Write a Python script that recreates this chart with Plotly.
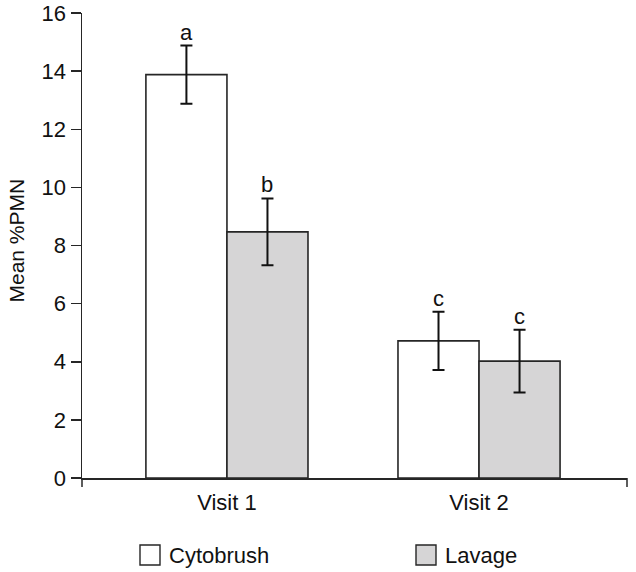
import plotly.graph_objects as go

visits = ["Visit 1", "Visit 2"]
series_names = ["Cytobrush", "Lavage"]
cytobrush_mean = [13.88, 4.72]
cytobrush_err = [1.0, 1.0]
lavage_mean = [8.47, 4.02]
lavage_err = [1.15, 1.08]
cytobrush_letters = ["a", "c"]
lavage_letters = ["b", "c"]
y_ticks = [0, 2, 4, 6, 8, 10, 12, 14, 16]
y_title = "Mean %PMN"

FONT = "Liberation Sans, Arial, Helvetica, sans-serif"
INK = "#262626"
TXT = "#111111"
fills = ["#ffffff", "#d6d5d6"]

x_pos = [0, 1]
FIG_W, FIG_H = 636, 572

fig = go.Figure()
for name, means, errs, fill in [
    (series_names[0], cytobrush_mean, cytobrush_err, fills[0]),
    (series_names[1], lavage_mean, lavage_err, fills[1]),
]:
    fig.add_trace(go.Bar(
        x=x_pos, y=means, name=name,
        marker=dict(color=fill, line=dict(color=INK, width=1.6)),
        error_y=dict(type="data", array=errs, visible=True,
                     color=TXT, thickness=2, width=6),
        showlegend=False, hoverinfo="skip",
    ))

offsets = [-0.1607, 0.1607]
annots = []
for off, means, errs, letters in [
    (offsets[0], cytobrush_mean, cytobrush_err, cytobrush_letters),
    (offsets[1], lavage_mean, lavage_err, lavage_letters),
]:
    for xi, m, e, l in zip(x_pos, means, errs, letters):
        annots.append(dict(x=xi + off, y=m + e, xref="x", yref="y", text=l,
                           showarrow=False, yanchor="bottom", yshift=-1,
                           font=dict(family=FONT, size=22, color=TXT)))

# plot-area geometry in page pixels
L = 82.0; R = 627.0; T = 13.0; B = 478.0
W = R - L; H = B - T
def px(xp): return (xp - L) / W
def py(yp): return (B - yp) / H

shapes = []
legend_items = [(140, series_names[0], fills[0]), (416, series_names[1], fills[1])]
for x0, name, fill in legend_items:
    shapes.append(dict(type="rect", xref="paper", yref="paper",
                       x0=px(x0), x1=px(x0 + 20), y0=py(545), y1=py(565),
                       fillcolor=fill, line=dict(color=INK, width=1.4)))
    annots.append(dict(x=px(x0 + 27), y=py(555), xref="paper", yref="paper",
                       text=name, showarrow=False, xanchor="left", yanchor="middle",
                       font=dict(family=FONT, size=22, color=TXT)))

# y-axis title
annots.append(dict(x=px(16), y=py(240.5), xref="paper", yref="paper",
                   text=y_title, textangle=-90, showarrow=False,
                   xanchor="center", yanchor="middle",
                   font=dict(family=FONT, size=21, color=TXT)))

for xp in [0, 1]:
    shapes.append(dict(type="line", xref="paper", yref="paper",
                       x0=xp, x1=xp, y0=0, y1=py(487),
                       line=dict(color=INK, width=1.5)))

fig.update_layout(
    width=FIG_W, height=FIG_H,
    margin=dict(l=L, r=FIG_W - R, t=T, b=FIG_H - B, autoexpand=False),
    paper_bgcolor="white", plot_bgcolor="white",
    barmode="group", bargap=0.357, bargroupgap=0,
    font=dict(family=FONT, size=22, color=TXT),
    annotations=annots, shapes=shapes, hovermode=False,
    xaxis=dict(range=[-0.575, 1.587], tickvals=x_pos, ticktext=visits,
               showline=True, linecolor=INK, linewidth=1.5, ticks="",
               showgrid=False, zeroline=False, automargin=False,
               ticklabelstandoff=4,
               tickfont=dict(family=FONT, size=22, color=TXT)),
    yaxis=dict(range=[0, 16], tickvals=y_ticks, showline=True, linecolor=INK,
               linewidth=1.5, ticks="outside", ticklen=10, tickwidth=1.5,
               tickcolor=INK, showgrid=False, zeroline=False, automargin=False,
               ticklabelstandoff=0, ticklabeloverflow="allow",
               tickfont=dict(family=FONT, size=22, color=TXT)),
)

# remove the default 8px page margin so the figure sits at the window's corner
fig.write_html("out.html",
               config={"displayModeBar": False, "staticPlot": True},
               post_script="document.body.style.margin='0';document.body.style.padding='0';")
